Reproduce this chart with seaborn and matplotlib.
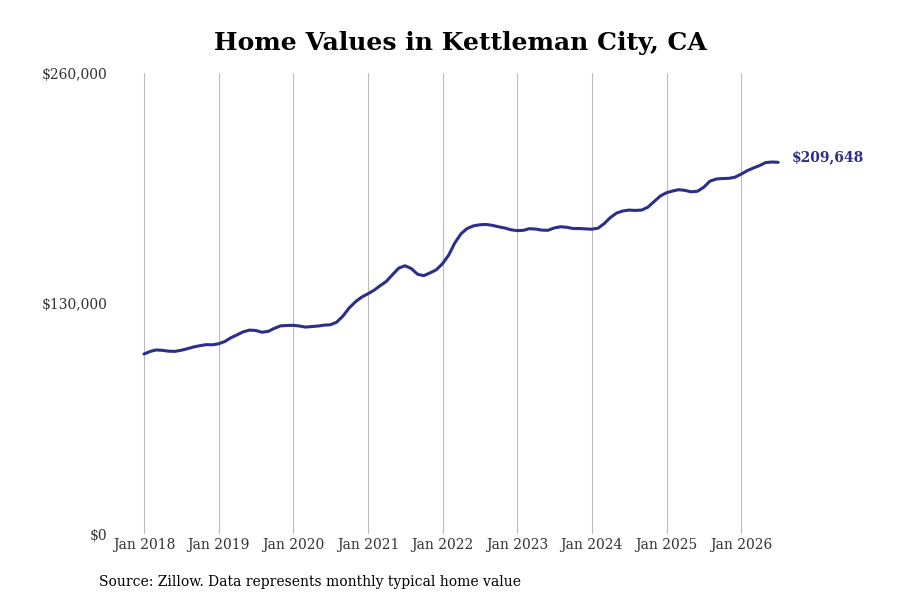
import numpy as np
import pandas as pd
import matplotlib
matplotlib.use('Agg')
import matplotlib.pyplot as plt
import matplotlib.dates as mdates
import seaborn as sns

# monthly typical home value, Jan 2018 - Jul 2026
values_2018 = [101500, 103000, 103800, 103600, 103100, 103000, 103600, 104500, 105500, 106200, 106800, 106700]
values_2019 = [107300, 108600, 110600, 112300, 114000, 115000, 114800, 113800, 114300, 116000, 117400, 117600]
values_2020 = [117700, 117300, 116700, 117000, 117300, 117800, 118000, 119500, 123000, 127500, 131000, 133600]
values_2021 = [135500, 137600, 140000, 142500, 146300, 150000, 151300, 149700, 146500, 145700, 147300, 149000]
values_2022 = [152500, 157500, 164000, 169300, 172300, 173800, 174400, 174600, 174100, 173300, 172600, 171600]
values_2023 = [171100, 171300, 172200, 172000, 171400, 171300, 172600, 173300, 173000, 172300, 172300, 172100]
values_2024 = [171900, 172500, 175000, 178500, 181000, 182200, 182700, 182500, 182700, 184300, 187500, 190600]
values_2025 = [192500, 193500, 194200, 193800, 193000, 193300, 195500, 199000, 200200, 200500, 200600, 201200]
values_2026 = [203000, 205000, 206400, 207800, 209500, 209800, 209648]

values = (values_2018 + values_2019 + values_2020 + values_2021 + values_2022
          + values_2023 + values_2024 + values_2025 + values_2026)
dates = pd.date_range('2018-01-01', periods=len(values), freq='MS')
df = pd.DataFrame({'date': dates, 'value': values})

x_ticks = pd.date_range('2018-01-01', '2026-01-01', freq='YS')
y_ticks = [0, 130000, 260000]
y_tick_labels = ['$0', '$130,000', '$260,000']

line_color = '#2d2d8a'

sns.set_style('white')
plt.rcParams['font.family'] = ['DejaVu Serif']

fig = plt.figure(figsize=(9, 6), dpi=100)
ax = fig.add_axes([0.13, 0.11, 0.84, 0.7683])

sns.lineplot(data=df, x='date', y='value', ax=ax, color=line_color, linewidth=2.2)

ax.set_xticks(x_ticks)
ax.xaxis.set_major_formatter(mdates.DateFormatter('Jan %Y'))
ax.set_yticks(y_ticks)
ax.set_yticklabels(y_tick_labels)
ax.set_ylim(0, 260000)
ax.set_xlim(pd.Timestamp('2017-08-22'), pd.Timestamp('2027-10-08'))

ax.grid(axis='x', color='#bbbbbb', linewidth=0.8)
ax.grid(axis='y', visible=False)
for s in ax.spines.values():
    s.set_visible(False)
ax.tick_params(axis='both', length=0, labelsize=10, colors='#333333')
ax.tick_params(axis='y', pad=7)
ax.tick_params(axis='x', pad=3)
ax.set_xlabel('')
ax.set_ylabel('')

last = df.iloc[-1]
ax.annotate('$209,648', xy=(last['date'], last['value']), xytext=(10, 4),
            textcoords='offset points', color=line_color, fontsize=10,
            fontweight='bold', va='center', ha='left')

fig.text(0.512, 0.928, 'Home Values in Kettleman City, CA', ha='center', va='center',
         fontsize=18, fontweight='bold', color='black')
fig.text(0.11, 0.03, 'Source: Zillow. Data represents monthly typical home value',
         ha='left', va='center', fontsize=10, color='black')

fig.savefig('out.png', dpi=100)
